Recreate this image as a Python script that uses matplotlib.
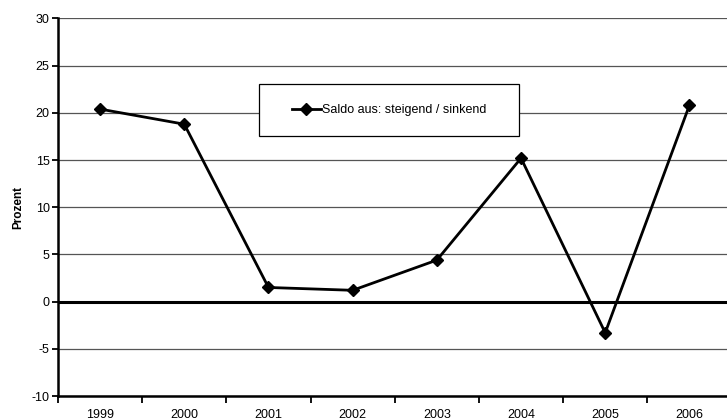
import numpy as np
import matplotlib.pyplot as plt
from matplotlib.patches import Rectangle

# Daten
jahre = ['1999', '2000', '2001', '2002', '2003', '2004', '2005', '2006']
saldo = [20.4, 18.8, 1.5, 1.2, 4.4, 15.2, -3.3, 20.8]
y_ticks = [-10, -5, 0, 5, 10, 15, 20, 25, 30]
serie_name = 'Saldo aus: steigend / sinkend'

plt.rcParams['font.family'] = ['Liberation Sans', 'DejaVu Sans']

W, H = 727, 419
fig = plt.figure(figsize=(W / 100, H / 100), dpi=100)
ax = fig.add_axes([58 / W, 1 - 396 / H, (731.5 - 58) / W, (396 - 18.5) / H])

x = np.arange(len(jahre))

# Gitterlinien
for yv in y_ticks:
    if yv == 0:
        ax.axhline(yv, color='black', lw=2.2, zorder=1)
    else:
        ax.axhline(yv, color='#555555', lw=0.9, zorder=1)

line, = ax.plot(x, saldo, color='black', lw=2.0, marker='D', markersize=6.5,
                label=serie_name, zorder=3, clip_on=False)

ax.set_xlim(-0.5, len(jahre) - 0.5)
ax.set_ylim(-10, 30)
ax.set_yticks(y_ticks)
ax.set_yticklabels([str(v) for v in y_ticks], fontsize=9)
ax.set_xticks(x)
ax.set_xticklabels(jahre, fontsize=9)
ax.set_xticks(np.arange(-0.5, len(jahre), 1.0), minor=True)
ax.tick_params(axis='x', which='major', length=0, pad=9)
ax.tick_params(axis='x', which='minor', length=5, width=1.3, direction='out')
ax.tick_params(axis='y', length=4, width=1.3, direction='out', pad=2)

for s in ['top', 'right']:
    ax.spines[s].set_visible(False)
ax.spines['left'].set_linewidth(1.8)
ax.spines['bottom'].set_linewidth(1.8)

ax.set_ylabel('Prozent', fontsize=8.5, fontweight='bold', labelpad=5)

# Legende mit Rahmen
rahmen = Rectangle((259 / W, 1 - 136 / H), (519 - 259) / W, (136 - 84) / H,
                   transform=fig.transFigure, facecolor='white',
                   edgecolor='black', lw=0.9, zorder=5, clip_on=False)
ax.add_patch(rahmen)
leg = ax.legend(loc='center', bbox_to_anchor=(389 / W, 1 - 110 / H),
                bbox_transform=fig.transFigure, frameon=False, fontsize=9,
                handlelength=2.3, handletextpad=0.1)
leg.set_zorder(6)

fig.savefig('out.png', dpi=100)
